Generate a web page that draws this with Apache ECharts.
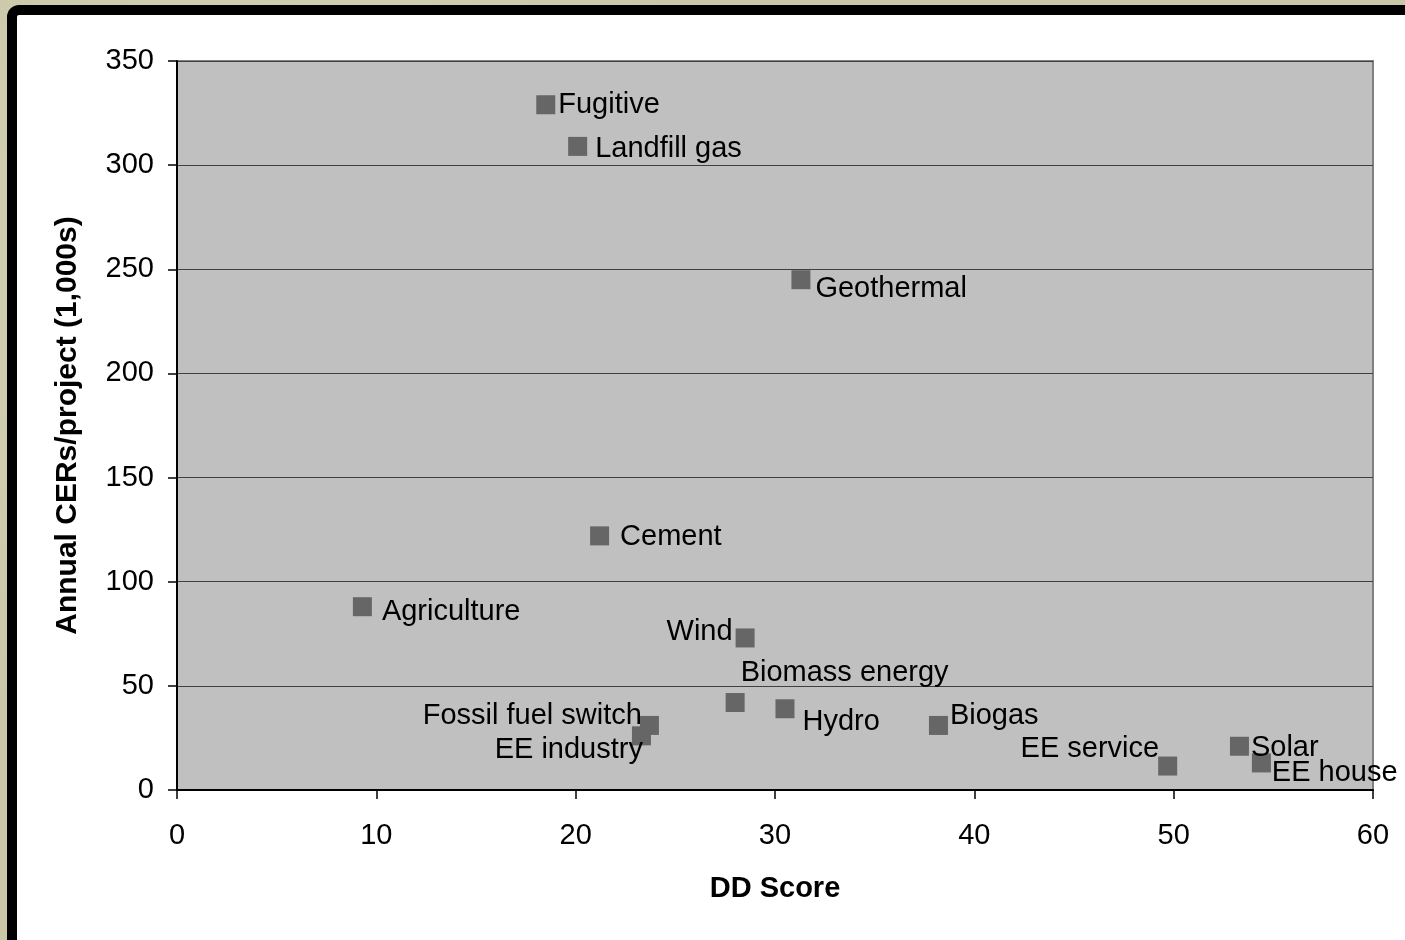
<!DOCTYPE html>
<html>
<head>
<meta charset="utf-8">
<script src="https://cdn.jsdelivr.net/npm/echarts@6/dist/echarts.min.js"></script>
<style>
  html, body { margin: 0; padding: 0; }
  body {
    width: 1405px; height: 940px; overflow: hidden; position: relative;
    background: #c9c7a6;
    background-image: radial-gradient(circle at 20% 30%, rgba(255,255,240,0.25), rgba(0,0,0,0) 40%),
                      radial-gradient(circle at 80% 70%, rgba(120,120,90,0.15), rgba(0,0,0,0) 45%);
  }
  #panel {
    position: absolute; left: 7px; top: 5px; width: 1430px; height: 950px;
    box-sizing: border-box; border: 10px solid #000; border-radius: 12px; background: #fff;
  }
  #chart { position: absolute; left: 0; top: 0; width: 1405px; height: 940px; }
</style>
</head>
<body>
<div id="panel"></div>
<div id="chart"></div>
<script>
// Data
const categories = ["Fugitive", "Landfill gas", "Geothermal", "Cement", "Agriculture", "Wind",
  "Biomass energy", "Hydro", "Biogas", "Fossil fuel switch", "EE industry", "EE service", "Solar", "EE house"];
const ddScore = [18.5, 20.1, 31.3, 21.2, 9.3, 28.5, 28.0, 30.5, 38.2, 23.7, 23.3, 49.7, 53.3, 54.4];
const annualCERs = [329, 309, 245, 122, 88, 73, 42, 39, 31, 31, 26, 11.5, 21, 13];
const xTicks = [0, 10, 20, 30, 40, 50, 60];
const yTicks = [0, 50, 100, 150, 200, 250, 300, 350];

// Label placement (style only): [side, distance, dx, dy]
const labelPlacement = {
  "Fugitive": ["right", 3, 0, 0],
  "Landfill gas": ["right", 8, 0, 3],
  "Geothermal": ["right", 5, 0, 9],
  "Cement": ["right", 11, 0, 1],
  "Agriculture": ["right", 10, 0, 5],
  "Wind": ["left", 3, 0, -6],
  "Biomass energy": ["right", 0, -4, -30],
  "Hydro": ["right", 8, 0, 13],
  "Biogas": ["right", 2, 0, -9],
  "Fossil fuel switch": ["left", 0, 2, -9],
  "EE industry": ["left", 0, 11, 14],
  "EE service": ["left", 0, 1, -17],
  "Solar": ["right", 2, 0, 2],
  "EE house": ["right", 1, 0, 10]
};

const FONT = '"Liberation Sans", Arial, sans-serif';
const points = categories.map((name, i) => {
  const p = labelPlacement[name];
  return {
    name: name,
    value: [ddScore[i], annualCERs[i]],
    label: { position: p[0], distance: p[1] }
  };
});

const chart = echarts.init(document.getElementById('chart'), null, { renderer: 'canvas' });
chart.setOption({
  backgroundColor: 'transparent',
  animation: false,
  grid: {
    left: 177, right: 32, top: 61, bottom: 150,
    show: true, backgroundColor: '#c0c0c0', borderColor: '#808080', borderWidth: 2
  },
  xAxis: {
    type: 'value', min: xTicks[0], max: xTicks[xTicks.length - 1], interval: 10,
    name: 'DD Score', nameLocation: 'middle', nameGap: 84,
    nameTextStyle: { fontFamily: FONT, fontSize: 29, fontWeight: 'bold', color: '#000' },
    axisLine: { show: true, onZero: false, lineStyle: { color: '#000', width: 2 } },
    axisTick: { show: true, inside: false, length: 9, lineStyle: { color: '#000', width: 1.5 } },
    axisLabel: { margin: 31, fontFamily: FONT, fontSize: 29, color: '#000' },
    splitLine: { show: false }
  },
  yAxis: {
    type: 'value', min: yTicks[0], max: yTicks[yTicks.length - 1], interval: 50,
    name: 'Annual CERs/project (1,000s)', nameLocation: 'middle', nameGap: 94, nameRotate: 90,
    nameTextStyle: { fontFamily: FONT, fontSize: 30, fontWeight: 'bold', color: '#000' },
    axisLine: { show: true, onZero: false, lineStyle: { color: '#000', width: 2 } },
    axisTick: { show: true, inside: false, length: 9, lineStyle: { color: '#000', width: 1.5 } },
    axisLabel: { margin: 23, fontFamily: FONT, fontSize: 29, color: '#000' },
    splitLine: { show: true, lineStyle: { color: '#404040', width: 1 } }
  },
  series: [{
    type: 'scatter',
    symbol: 'rect',
    symbolSize: 19,
    itemStyle: { color: '#666666', opacity: 1 },
    label: {
      show: true, formatter: '{b}', fontFamily: FONT, fontSize: 29, color: '#000'
    },
    labelLayout: function (params) {
      const p = labelPlacement[categories[params.dataIndex]];
      return { dx: p[2], dy: p[3], hideOverlap: false };
    },
    data: points
  }]
});
</script>
</body>
</html>
